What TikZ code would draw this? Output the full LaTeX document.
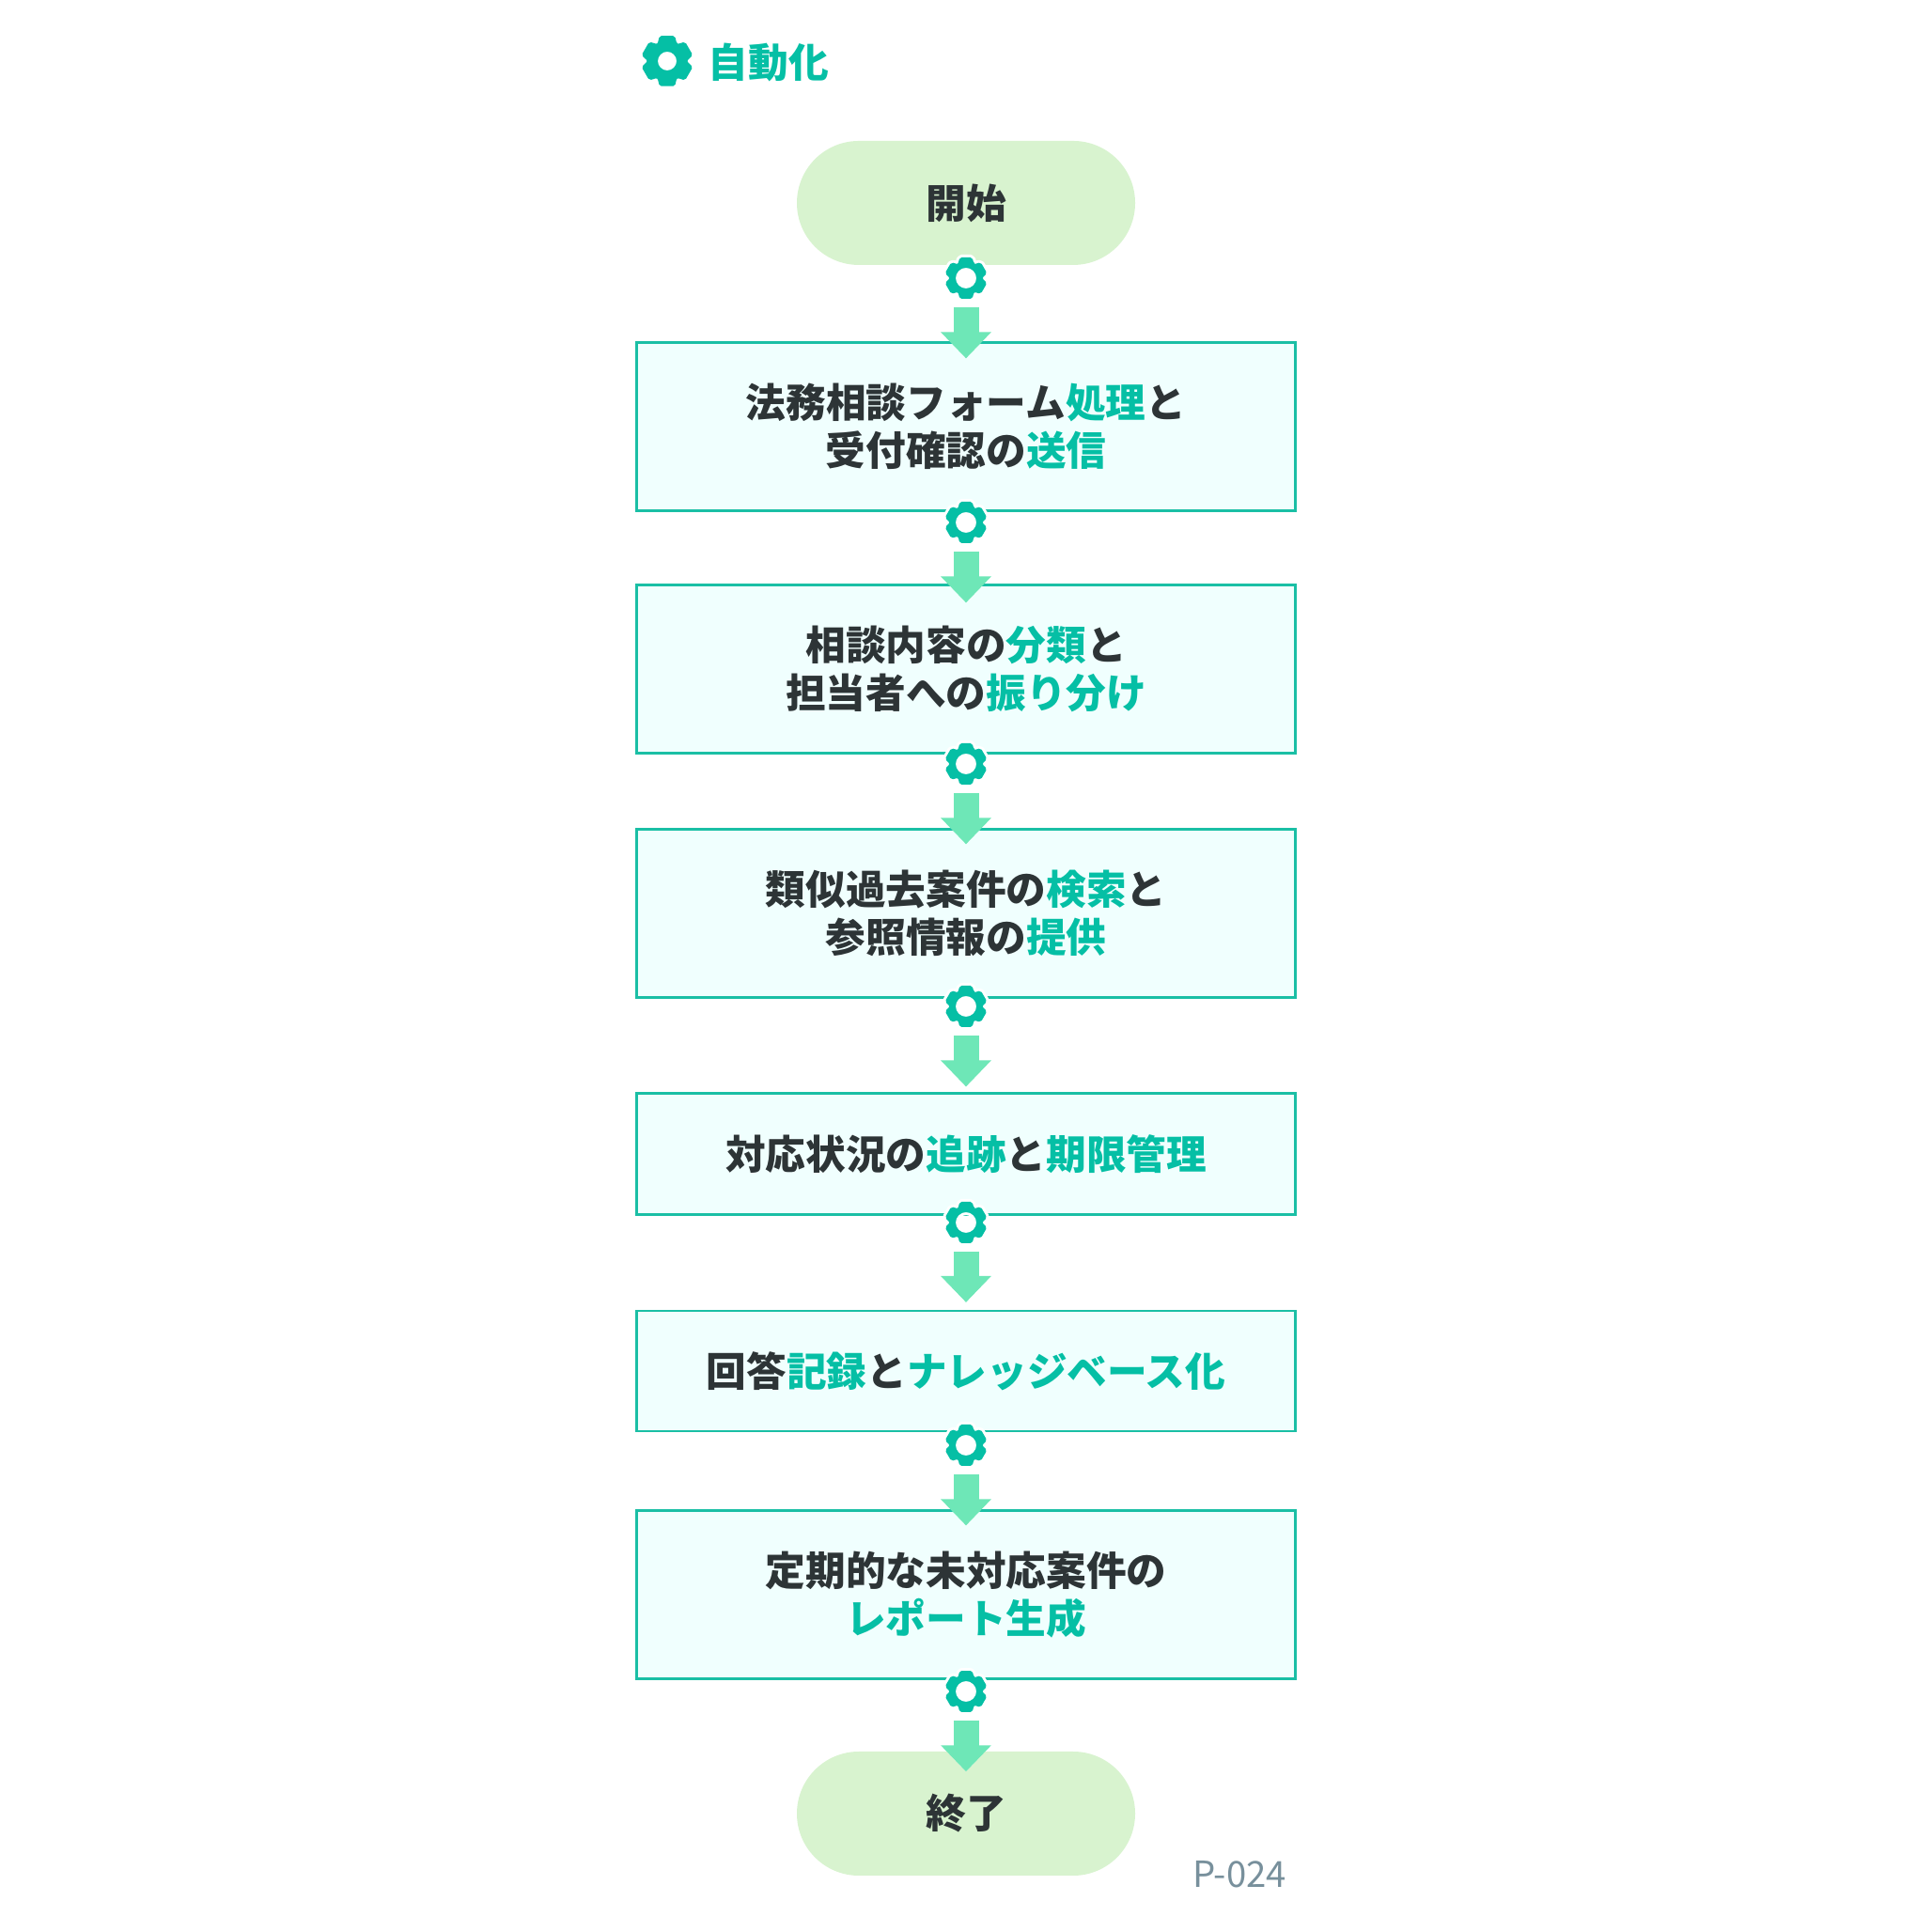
\documentclass[tikz,border=0pt]{standalone}
\usepackage{fontspec}
\usetikzlibrary{arrows.meta}
\setmainfont{Noto Sans CJK JP}
\definecolor{tealmark}{HTML}{05BFA5}
\definecolor{tealline}{HTML}{1ABFA5}
\definecolor{boxfill}{HTML}{F0FFFE}
\definecolor{endfill}{HTML}{D8F3CF}
\definecolor{arrowfill}{HTML}{6EE7B7}
\definecolor{inktext}{HTML}{2D3436}
\definecolor{codetext}{HTML}{78909C}
\newcommand{\hl}[1]{\textcolor{tealmark}{#1}}
\tikzset{
  basetext/.style = {align=center, text=inktext, inner sep=0pt,
    font=\fontsize{12.14}{14.7}\selectfont\bfseries},
  stepbox/.style = {basetext, draw=tealline, line width=0.6pt, fill=boxfill,
    minimum width=7.01cm, minimum height=#1},
  endbox/.style = {basetext, fill=endfill, rounded corners=0.66cm,
    minimum width=3.60cm, minimum height=1.32cm},
  gearnode/.style = {circle, inner sep=0pt, minimum size=0.44cm},
  flowhalo/.style = {white, line width=0.27cm, -{Triangle[length=0.34cm,width=0.62cm]}},
  flowarrow/.style = {arrowfill, line width=0.27cm, -{Triangle[length=0.28cm,width=0.52cm]}},
  pics/gearicon/.style args = {#1/#2}{code = {
    \path[fill=tealmark, preaction={draw=white, line width=0.06cm, line join=round}, even odd rule, rounded corners=0.02cm]
      (60:#1*0.74) \foreach \k in {0,...,5}{
        -- ({\k*60+73}:#1) -- ({\k*60+107}:#1) -- ({\k*60+120}:#1*0.74)
      } -- cycle (0,0) circle (#2);
  }}
}
\begin{document}
\begin{tikzpicture}
  \useasboundingbox (0,0) rectangle (20.56,20.56);
  \coordinate (icon) at (7.10,19.91);
  \pic at (icon) {gearicon=0.28/0.10};
  \node[basetext, text=tealmark, anchor=west] (title) at (7.53,19.90) {自動化};
  \node[endbox] (start) at (10.28,18.40) {開始};
  \node[stepbox=1.79cm] (form) at (10.28,16.02) {法務相談フォーム\hl{処理}と\\受付確認の\hl{送信}};
  \node[stepbox=1.79cm] (sort) at (10.28,13.44) {相談内容の\hl{分類}と\\担当者への\hl{振り分け}};
  \node[stepbox=1.79cm] (past) at (10.28,10.84) {類似過去案件の\hl{検索}と\\参照情報の\hl{提供}};
  \node[stepbox=1.29cm] (track) at (10.28,8.28) {対応状況の\hl{追跡}と\hl{期限管理}};
  \node[stepbox=1.28cm] (know) at (10.28,5.97) {回答\hl{記録}と\hl{ナレッジベース化}};
  \node[stepbox=1.79cm] (report) at (10.28,3.59) {定期的な未対応案件の\\\hl{レポート生成}};
  \node[endbox] (finish) at (10.28,1.26) {終了};
  \node[text=codetext, inner sep=0pt, font=\fontsize{10.9}{13}\selectfont] (code) at (13.19,0.61) {P-024};
  \foreach \g/\y/\b/\s in {g1/17.60/form/0.18, g2/15.00/sort/0.20, g3/12.43/past/0.17,
      g4/9.85/track/-0.06, g5/7.55/know/-0.08, g6/5.18/report/0.17, g7/2.56/finish/0.22}{
    \node[gearnode] (\g) at (10.28,\y) {};
    \draw[flowhalo, shorten <=0.08cm, shorten >=-\s cm] (\g.south) -- (\b.north);
    \draw[flowarrow, shorten <=0.08cm, shorten >=-\s cm] (\g.south) -- (\b.north);
    \pic at (\g) {gearicon=0.23/0.11};
  }
\end{tikzpicture}
\end{document}
